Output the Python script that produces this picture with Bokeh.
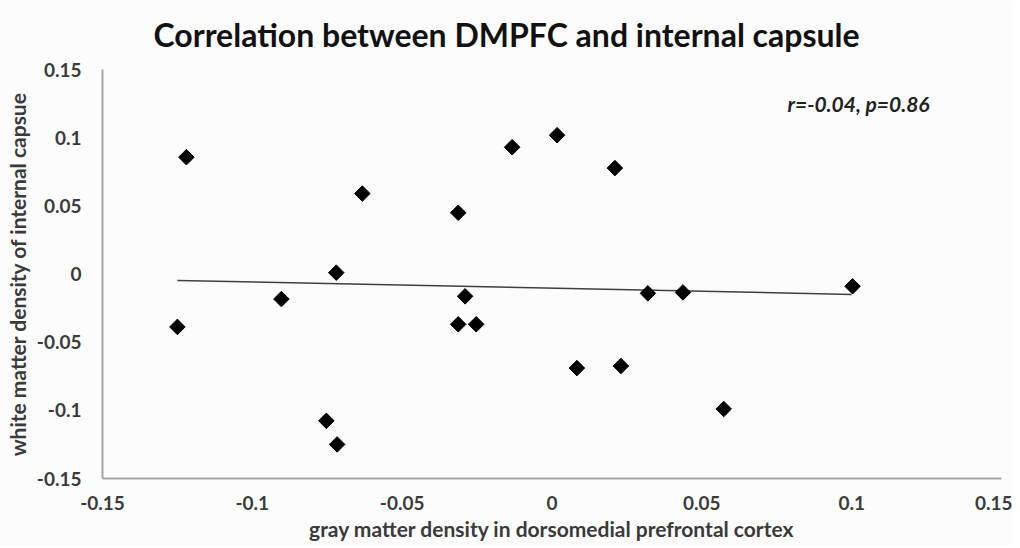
import numpy as np
from bokeh.plotting import figure
from bokeh.models import FixedTicker, Label
from bokeh.embed import file_html
from bokeh.resources import INLINE

# --- data ---
gray_matter = [-0.122, -0.125, -0.0903, -0.0753, -0.0717, -0.072, -0.0633,
               -0.0313, -0.0313, -0.029, -0.0253, -0.0133, 0.0017, 0.0083,
               0.021, 0.023, 0.032, 0.0437, 0.0573, 0.1003]
white_matter = [0.0857, -0.0388, -0.0184, -0.1077, -0.125, 0.001, 0.059,
                0.0449, -0.0369, -0.0164, -0.0369, 0.093, 0.1018, -0.069,
                0.0777, -0.0675, -0.0142, -0.0135, -0.099, -0.009]
trend_x = [-0.125, 0.1]
trend_y = [-0.0047, -0.015]
tick_values = [-0.15, -0.1, -0.05, 0, 0.05, 0.1, 0.15]
tick_labels = ["-0.15", "-0.1", "-0.05", "0", "0.05", "0.1", "0.15"]
title_text = "Correlation between DMPFC and internal capsule"
stat_text = "r=-0.04, p=0.86"
stat_pos = (0.0786, 0.125)

FONT = "Lato"
BG = "#fcfcfd"
TXT = "#3a3a3a"

p = figure(width=1012, height=546, output_backend="svg", toolbar_location=None,
           x_range=(-0.15, 0.15), y_range=(-0.15, 0.15), title=title_text,
           min_border_left=102, min_border_right=11, min_border_top=67,
           min_border_bottom=68)
p.background_fill_color = BG
p.border_fill_color = BG
p.outline_line_color = None
p.grid.grid_line_color = None

p.title.align = "left"
p.title.vertical_align = "top"
p.title.text_font = FONT
p.title.text_font_size = "32px"
p.title.text_font_style = "bold"
p.title.text_color = "#111111"
p.title.offset = 51
p.title.standoff = 28

labels = dict(zip(tick_values, tick_labels))
for ax in (p.xaxis[0], p.yaxis[0]):
    ax.ticker = FixedTicker(ticks=tick_values)
    ax.major_label_overrides = labels
    ax.axis_line_color = "#a6a6a6"
    ax.axis_line_width = 2
    ax.major_tick_line_color = None
    ax.minor_tick_line_color = None
    ax.major_tick_out = 0
    ax.major_tick_in = 0
    ax.major_label_text_font = FONT
    ax.major_label_text_font_size = "19px"
    ax.major_label_text_font_style = "bold"
    ax.major_label_text_color = TXT
    ax.axis_label_text_font = FONT
    ax.axis_label_text_font_size = "21px"
    ax.axis_label_text_font_style = "bold"
    ax.axis_label_text_color = TXT

p.xaxis.axis_label = "gray matter density in dorsomedial prefrontal cortex"
p.yaxis.axis_label = "white matter density of internal capsue"
p.xaxis.major_label_standoff = 17
p.yaxis.major_label_standoff = 21
p.xaxis.axis_label_standoff = 3
p.yaxis.axis_label_standoff = 4

p.line(trend_x, trend_y, line_color="#404040", line_width=1.5)
p.scatter(gray_matter, white_matter, marker="square", angle=np.pi / 4,
          size=11, fill_color="black", line_color="black")

p.add_layout(Label(x=stat_pos[0], y=stat_pos[1], text=stat_text,
                   text_font=FONT, text_font_size="21px",
                   text_font_style="bold italic", text_color="#222222",
                   text_baseline="middle", text_align="left"))

open("out.html", "w").write(file_html(p, INLINE))
